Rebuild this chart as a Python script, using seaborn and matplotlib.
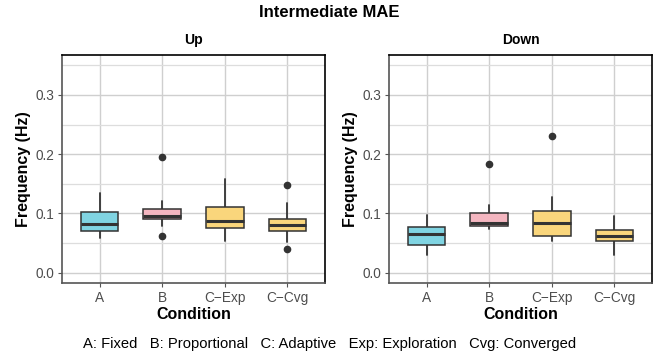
import matplotlib
matplotlib.use("Agg")
import matplotlib.pyplot as plt
import seaborn as sns
import numpy as np

# Conditions and box colours
conditions = ["A", "B", "C\u2212Exp", "C\u2212Cvg"]
box_colors = ["#80D4E2", "#F4B6C0", "#FAD67C", "#FAD67C"]

# Box summaries (Hz) per direction: lower whisker, Q1, median, Q3, upper whisker
up_whislo = [0.059, 0.078, 0.054, 0.051]
up_q1 = [0.071, 0.091, 0.075, 0.071]
up_med = [0.082, 0.096, 0.088, 0.081]
up_q3 = [0.103, 0.107, 0.111, 0.090]
up_whishi = [0.134, 0.121, 0.158, 0.117]
up_fliers = [[], [0.062, 0.195], [], [0.040, 0.148]]

down_whislo = [0.029, 0.073, 0.053, 0.029]
down_q1 = [0.046, 0.078, 0.062, 0.054]
down_med = [0.065, 0.083, 0.083, 0.062]
down_q3 = [0.077, 0.100, 0.104, 0.072]
down_whishi = [0.0975, 0.115, 0.128, 0.096]
down_fliers = [[], [0.184], [0.230], []]

panels = [
    ("Up", up_whislo, up_q1, up_med, up_q3, up_whishi, up_fliers),
    ("Down", down_whislo, down_q1, down_med, down_q3, down_whishi, down_fliers),
]

sns.set_theme(style="whitegrid")
plt.rcParams["font.family"] = ["Liberation Sans", "DejaVu Sans"]
plt.rcParams["text.color"] = "black"
plt.rcParams["axes.labelcolor"] = "black"

fig = plt.figure(figsize=(6.59, 3.6), dpi=100)
axes = [
    fig.add_axes([62 / 659, 77 / 360, 263 / 659, 228 / 360]),
    fig.add_axes([389 / 659, 77 / 360, 263 / 659, 228 / 360]),
]

edge = "#333333"
for ax, (name, wlo, q1, med, q3, whi, fl) in zip(axes, panels):
    stats = []
    for i in range(len(conditions)):
        stats.append(dict(whislo=wlo[i], q1=q1[i], med=med[i], q3=q3[i],
                          whishi=whi[i], fliers=fl[i], label=conditions[i]))
    bp = ax.bxp(stats, positions=np.arange(len(conditions)), widths=0.6,
                patch_artist=True, showfliers=True,
                boxprops=dict(edgecolor=edge, linewidth=1.1),
                medianprops=dict(color=edge, linewidth=2.2, solid_capstyle="butt"),
                whiskerprops=dict(color=edge, linewidth=1.3),
                capprops=dict(linewidth=0),
                flierprops=dict(marker="o", markerfacecolor=edge,
                                markeredgecolor=edge, markersize=4.5))
    for patch, c in zip(bp["boxes"], box_colors):
        patch.set_facecolor(c)
        patch.set_zorder(3)
    for m in bp["medians"]:
        m.set_zorder(4)

    ax.set_xlim(-0.6, len(conditions) - 0.4)
    ax.set_ylim(-0.0175, 0.3675)
    ax.set_yticks([0.0, 0.1, 0.2, 0.3])
    ax.set_yticklabels(["0.0", "0.1", "0.2", "0.3"])
    ax.set_yticks([0.05, 0.15, 0.25, 0.35], minor=True)
    ax.set_xticks(np.arange(len(conditions)))
    ax.set_xticklabels(conditions)

    ax.set_facecolor("white")
    ax.grid(True, which="major", color="#CFCFCF", linewidth=1.0)
    ax.grid(True, which="minor", axis="y", color="#DDDDDD", linewidth=0.9)
    ax.set_axisbelow(True)

    for side in ["top", "right"]:
        ax.spines[side].set_color("black")
        ax.spines[side].set_linewidth(1.2)
    for side in ["left", "bottom"]:
        ax.spines[side].set_color("#555555")
        ax.spines[side].set_linewidth(1.2)

    ax.tick_params(axis="both", which="major", length=3, width=0.8,
                   color="#555555", labelcolor="#4D4D4D", labelsize=9.8, pad=2.5,
                   left=True, bottom=True)
    ax.tick_params(axis="y", which="minor", length=0, left=False)

    ax.set_xlabel("Condition", fontsize=11.5, fontweight="bold", labelpad=2)
    ax.set_ylabel("Frequency (Hz)", fontsize=11.5, fontweight="bold", labelpad=3)
    ax.set_title(name, fontsize=10, fontweight="bold", pad=8)

fig.suptitle("Intermediate MAE", fontsize=12, fontweight="bold", y=0.985)
fig.text(0.5, 0.045,
         "A: Fixed   B: Proportional   C: Adaptive   Exp: Exploration   Cvg: Converged",
         ha="center", va="center", fontsize=10.6)

fig.savefig("out.png", dpi=100)
